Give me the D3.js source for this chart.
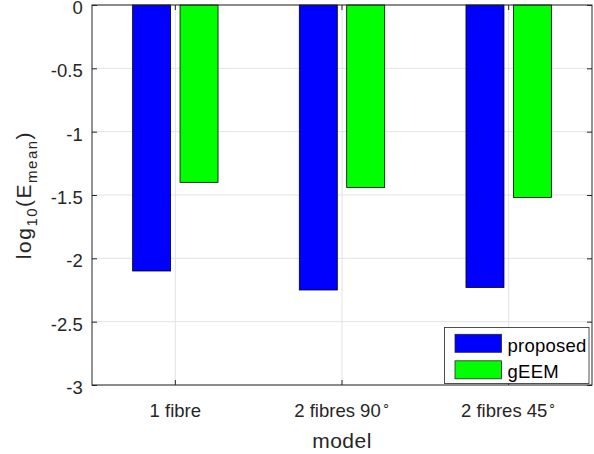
<!DOCTYPE html>
<html>
<head>
<meta charset="utf-8">
<script src="https://cdn.jsdelivr.net/npm/d3@7"></script>
<style>
  body { margin: 0; background: #fff; }
  text { font-family: "Liberation Sans", Arial, sans-serif; fill: #262626; }
</style>
</head>
<body>
<svg id="chart" width="594" height="454"></svg>
<script>
const models = ["1 fibre", "2 fibres 90", "2 fibres 45"]
const hasDegree = [false, true, true]
const series = ["proposed", "gEEM"]
const proposed = [-2.10, -2.25, -2.23]
const gEEM = [-1.40, -1.44, -1.52]
const colours = ["#0000ff", "#00ff00"]
const yTicks = [0, -0.5, -1, -1.5, -2, -2.5, -3]

const svg = d3.select('#chart')
const plotL = 92, plotR = 592, plotT = 5, plotB = 385
const ink = '#262626'

const x = d3.scaleBand().domain(models).range([plotL, plotR])
const y = d3.scaleLinear().domain([-3, 0]).range([plotB, plotT])

// grid
svg.append('g').selectAll('line')
    .data(yTicks)
    .enter().append('line')
    .attr('x1', plotL).attr('x2', plotR)
    .attr('y1', d => y(d)).attr('y2', d => y(d))
    .attr('stroke', '#e3e3e3')
svg.append('g').selectAll('line')
    .data(models)
    .enter().append('line')
    .attr('x1', d => x(d) + x.bandwidth() / 2).attr('x2', d => x(d) + x.bandwidth() / 2)
    .attr('y1', plotT).attr('y2', plotB)
    .attr('stroke', '#e3e3e3')

// bars
const barW = 38
const data = [proposed, gEEM]
data.forEach((vals, si) => {
    const off = si === 0 ? -23.7 : 23.7
    svg.append('g').selectAll('rect')
        .data(vals)
        .enter().append('rect')
        .attr('x', (d, i) => x(models[i]) + x.bandwidth() / 2 + off - barW / 2)
        .attr('y', y(0))
        .attr('width', barW)
        .attr('height', d => y(d) - y(0))
        .attr('fill', colours[si])
        .attr('stroke', '#000')
        .attr('stroke-width', 0.8)
})

// axes box
svg.append('rect')
    .attr('x', plotL).attr('y', plotT)
    .attr('width', plotR - plotL).attr('height', plotB - plotT)
    .attr('fill', 'none').attr('stroke', ink).attr('stroke-width', 1)

// y ticks, inward both sides
const gl = svg.append('g').attr('transform', `translate(${plotL},0)`)
    .call(d3.axisLeft(y).tickValues(yTicks).tickSize(-5).tickFormat(d => String(d)))
gl.select('.domain').remove()
gl.selectAll('line').attr('stroke', ink)
gl.selectAll('text')
    .attr('x', -9.3).attr('dy', '8.6')
    .attr('font-size', 18.5)
    .attr('font-family', '"Liberation Sans", Arial, sans-serif')
    .style('fill', ink)

const gr = svg.append('g').attr('transform', `translate(${plotR},0)`)
    .call(d3.axisRight(y).tickValues(yTicks).tickSize(-5).tickFormat(''))
gr.select('.domain').remove()
gr.selectAll('line').attr('stroke', ink)

// x ticks inward top and bottom
const gb = svg.append('g').attr('transform', `translate(0,${plotB})`)
    .call(d3.axisBottom(x).tickSize(-5).tickFormat(''))
gb.select('.domain').remove()
gb.selectAll('line').attr('stroke', ink)
const gt = svg.append('g').attr('transform', `translate(0,${plotT})`)
    .call(d3.axisTop(x).tickSize(-5).tickFormat(''))
gt.select('.domain').remove()
gt.selectAll('line').attr('stroke', ink)

// x tick labels with degree sign
const xl = svg.append('g').selectAll('text')
    .data(models)
    .enter().append('text')
    .attr('x', d => x(d) + x.bandwidth() / 2)
    .attr('y', 417)
    .attr('text-anchor', 'middle')
    .attr('font-size', 18.5)
xl.append('tspan').text(d => d)
xl.filter((d, i) => hasDegree[i]).append('tspan')
    .attr('dy', -8).attr('dx', 1).attr('font-size', 13).text('\u2218')

// axis titles
svg.append('text')
    .attr('x', (plotL + plotR) / 2).attr('y', 448)
    .attr('text-anchor', 'middle').attr('font-size', 21)
    .attr('letter-spacing', 0.5)
    .text('model')

const yl = svg.append('text')
    .attr('transform', `translate(31,${(plotT + plotB) / 2}) rotate(-90)`)
    .attr('text-anchor', 'middle').attr('font-size', 21)
    .attr('letter-spacing', 1.5)
yl.append('tspan').text('log')
yl.append('tspan').attr('dy', 6).attr('font-size', 15).text('10')
yl.append('tspan').attr('dy', -6).text('(E')
yl.append('tspan').attr('dy', 6).attr('font-size', 15).text('mean')
yl.append('tspan').attr('dy', -6).text(')')

// legend
const lg = svg.append('g')
lg.append('rect')
    .attr('x', 444.5).attr('y', 327.5).attr('width', 144.5).attr('height', 56)
    .attr('fill', '#fff').attr('stroke', ink).attr('stroke-width', 0.8)
series.forEach((s, i) => {
    lg.append('rect')
        .attr('x', 455).attr('y', 334.3 + i * 26.5)
        .attr('width', 46.5).attr('height', 18)
        .attr('fill', colours[i]).attr('stroke', ink).attr('stroke-width', 0.8)
    lg.append('text')
        .attr('x', 507.5).attr('y', 351.5 + i * 26.5)
        .attr('font-size', 18.5)
        .attr('letter-spacing', 0.25)
        .style('fill', '#000')
        .text(s)
})
</script>
</body>
</html>
